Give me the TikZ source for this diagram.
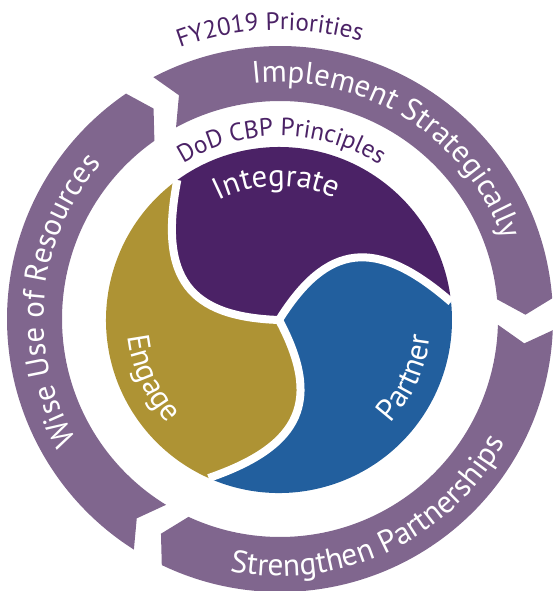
\documentclass[tikz,border=0pt]{standalone}
\usepackage{fontspec}
\setmainfont{PT Sans}
\usetikzlibrary{decorations.text}
\definecolor{ringc}{HTML}{80668E}
\definecolor{integc}{HTML}{4B2266}
\definecolor{engc}{HTML}{AE9334}
\definecolor{partc}{HTML}{225F9E}
\newcommand\ringseg[2]{%
  \pgfmathsetmacro\ta{#1+3.34}%
  \pgfmathsetmacro\tb{#1+4.18}%
  \pgfmathsetmacro\ha{#2+3.34}%
  \pgfmathsetmacro\hb{#2+4.18}%
  \fill[ringc] (\ta:273pt) -- (#1:245.5pt) -- (\tb:218pt)
    arc[start angle=\tb, end angle=\hb, radius=218pt]
    -- (#2:245.5pt) -- (\ha:273pt)
    arc[start angle=\ha, end angle=\ta, radius=273pt] -- cycle;}
\newcommand\tomoe[3]{%
  \pgfmathsetmacro\na{#2+34.9}%
  \pgfmathsetmacro\nb{#2+52}%
  \pgfmathsetmacro\pa{#1+34.9}%
  \pgfmathsetmacro\pb{#1+52}%
  \fill[#3] (#1:173pt) arc[start angle=#1, end angle=#2, radius=173pt]
    .. controls (\na:127.8pt) and (\nb:90pt) .. (0pt,0pt)
    .. controls (\pb:90pt) and (\pa:127.8pt) .. (#1:173pt) -- cycle;}
\tikzset{
  arctext/.style n args={3}{decorate, decoration={text along path,
    text={|\fontsize{#1}{#1}\selectfont|#2}, text align=center, text color=#3}}
}
\begin{document}
\begin{tikzpicture}
\useasboundingbox (-280pt,-272pt) rectangle (274pt,319pt);
% outer ring of three arrow segments
\ringseg{114.3}{1}
\ringseg{354.3}{241}
\ringseg{234.3}{121}
% inner three-part circle
\begin{scope}[shift={(-1pt,-1pt)}]
\tomoe{6}{126}{integc}
\tomoe{126}{246}{engc}
\tomoe{246}{366}{partc}
\foreach \t in {6,126,246}{
  \pgfmathsetmacro\pa{\t+34.9}
  \pgfmathsetmacro\pb{\t+52}
  \draw[white, line width=8pt] (0pt,0pt) .. controls (\pb:90pt) and (\pa:127.8pt) .. (\t:173pt);
}
% inner labels
\path[arctext={31pt}{Integrate}{white}] (150:134pt) arc[start angle=150, end angle=32, radius=134pt];
\path[arctext={31pt}{Partner}{white}] (-80:152pt) arc[start angle=-80, end angle=31, radius=152pt];
\path[arctext={31pt}{Engage}{white}] (150:152pt) arc[start angle=150, end angle=259, radius=152pt];
\end{scope}
% ring labels
\path[arctext={31pt}{Implement Strategically}{white}] (128:236.5pt) arc[start angle=128, end angle=-12, radius=236.5pt];
\path[arctext={31.5pt}{Strengthen Partnerships}{white}] (225:257pt) arc[start angle=225, end angle=365, radius=257pt];
\path[arctext={31pt}{Wise Use of Resources}{white}] (245:236.5pt) arc[start angle=245, end angle=105, radius=236.5pt];
% titles
\path[arctext={25pt}{FY2019 Priorities}{integc}] (140:289pt) arc[start angle=140, end angle=44, radius=289pt];
\path[arctext={25pt}{DoD CBP Principles}{integc}] (140:183pt) arc[start angle=140, end angle=39, radius=183pt];
\end{tikzpicture}
\end{document}
